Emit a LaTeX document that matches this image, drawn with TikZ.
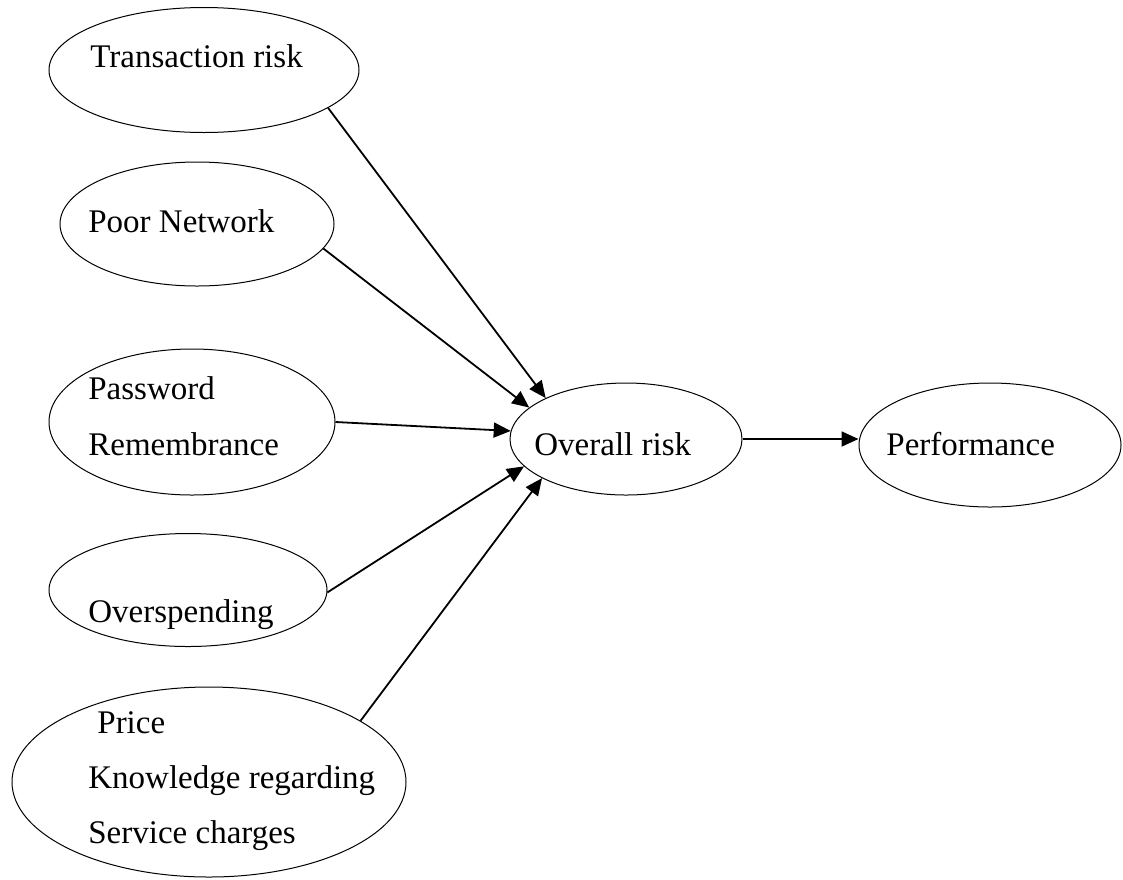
\documentclass[tikz,border=0pt]{standalone}
\usepackage{fontspec}
\setmainfont{Liberation Serif}
\usetikzlibrary{shapes.geometric,arrows.meta}

\begin{document}
\begin{tikzpicture}[x=0.5pt,y=-0.5pt,
	risk/.style={draw,ellipse,line width=0.5pt,inner sep=0pt},
	lbl/.style={anchor=base west,inner sep=0pt,font=\fontsize{16.5}{20}\selectfont},
	link/.style={line width=0.9pt,-{Triangle[length=8.5pt,width=7.5pt]}}]
	\useasboundingbox (0,0) rectangle (1123,879);
	% factors
	\node [risk,minimum width=155pt,minimum height=62.5pt] (trans) at (204,70) {};
	\node [lbl] (trans-t) at (90,67) {Transaction risk};
	\node [risk,minimum width=137pt,minimum height=62pt] (net) at (197,224) {};
	\node [lbl] (net-t) at (88,232) {Poor Network};
	\node [risk,minimum width=143pt,minimum height=73pt] (pass) at (192,422) {};
	\node [lbl] (pass-t1) at (88,399) {Password};
	\node [lbl] (pass-t2) at (88,455) {Remembrance};
	\node [risk,minimum width=139pt,minimum height=56.5pt] (spend) at (188,590) {};
	\node [lbl] (spend-t) at (88,622) {Overspending};
	\node [risk,minimum width=197pt,minimum height=95pt] (price) at (209,782) {};
	\node [lbl] (price-t1) at (97,733) {Price};
	\node [lbl] (price-t2) at (88,788) {Knowledge regarding};
	\node [lbl] (price-t3) at (88,843) {Service charges};
	% outcome
	\node [risk,minimum width=116pt,minimum height=56pt] (over) at (626,439) {};
	\node [lbl] (over-t) at (534,455) {Overall risk};
	\node [risk,minimum width=131pt,minimum height=62pt] (perf) at (990,445) {};
	\node [lbl] (perf-t) at (886,455) {Performance};
	% arrows
	\draw [link] (trans.-17) -- (over.153);
	\draw [link] (net.-11) -- (over.162);
	\draw [link] (pass.0) -- (over.176);
	\draw [link] (spend.-1) -- (over.195);
	\draw [link] (price.22) -- (over.205);
	\draw [link] (over.east) -- (over.east -| perf.west);
\end{tikzpicture}
\end{document}
